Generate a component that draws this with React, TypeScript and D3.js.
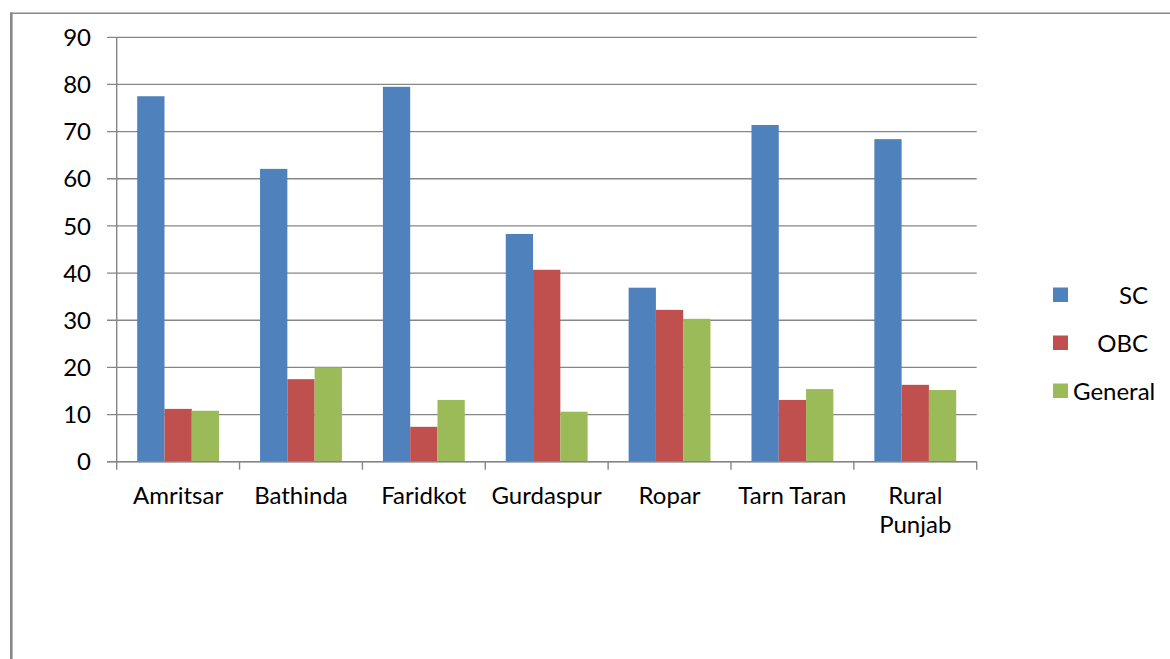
import React from "react";
import * as d3 from "d3";

// District-wise shares (%) by social group
const districts = ["Amritsar", "Bathinda", "Faridkot", "Gurdaspur", "Ropar", "Tarn Taran", "Rural Punjab"];
const seriesNames = ["SC", "OBC", "General"];
const scValues = [77.5, 62.1, 79.5, 48.3, 36.9, 71.4, 68.4];
const obcValues = [11.2, 17.5, 7.4, 40.7, 32.2, 13.1, 16.3];
const generalValues = [10.8, 20.0, 13.1, 10.6, 30.3, 15.4, 15.2];
const yTicks = [0, 10, 20, 30, 40, 50, 60, 70, 80, 90];

const seriesValues = [scValues, obcValues, generalValues];
const colors = ["#4F81BD", "#C0504D", "#9BBB59"];

const W = 1170;
const H = 659;
const left = 116.7;
const right = 976.7;
const top = 37.3;
const bottom = 461.7;
const FONT = "Lato, 'Open Sans', sans-serif";
const FS = 24;
const GRID = "#868686";

export default function App() {
  const x0 = d3.scaleBand<string>().domain(districts).range([left, right]).paddingInner(0).paddingOuter(0);
  const bw = x0.bandwidth();
  const x1 = d3.scaleBand<string>().domain(seriesNames).range([20.5, bw - 20.5]).padding(0);
  const y = d3.scaleLinear().domain([0, 90]).range([bottom, top]);

  const boundaries = districts.map((d) => x0(d) as number).concat([right]);

  return (
    <svg
      width={W}
      height={H}
      style={{ position: "absolute", left: 0, top: 0, background: "#fff" }}
      fontFamily={FONT}
    >
      <rect x={0} y={0} width={W} height={H} fill="#fff" />
      {/* outer frame */}
      <line x1={10} x2={W} y1={13.3} y2={13.3} stroke="#888" strokeWidth={1.4} />
      <line x1={11.3} x2={11.3} y1={12.6} y2={H} stroke="#888" strokeWidth={2.6} />

      {/* gridlines with outward ticks */}
      {yTicks.map((t) => (
        <g key={t}>
          <line x1={107} x2={right} y1={y(t)} y2={y(t)} stroke={GRID} strokeWidth={1.3} />
          <text x={91} y={y(t)} dy="0.36em" textAnchor="end" fontSize={FS} fill="#000">
            {t}
          </text>
        </g>
      ))}

      {/* bars */}
      {districts.map((d, i) => (
        <g key={d} transform={`translate(${x0(d)},0)`}>
          {seriesNames.map((s, j) => (
            <rect
              key={s}
              x={x1(s)}
              y={y(seriesValues[j][i])}
              width={x1.bandwidth()}
              height={y(0) - y(seriesValues[j][i])}
              fill={colors[j]}
            />
          ))}
        </g>
      ))}

      {/* axes */}
      <line x1={left} x2={left} y1={top} y2={bottom} stroke={GRID} strokeWidth={1.4} />
      <line x1={107} x2={right} y1={bottom} y2={bottom} stroke={GRID} strokeWidth={1.4} />
      {boundaries.map((bx, i) => (
        <line key={i} x1={bx} x2={bx} y1={bottom} y2={bottom + 8} stroke={GRID} strokeWidth={1.4} />
      ))}

      {/* category labels */}
      {districts.map((d) => {
        const cx = (x0(d) as number) + bw / 2;
        const lines = d === "Rural Punjab" ? ["Rural", "Punjab"] : [d];
        return (
          <text key={d} x={cx} y={503.5} textAnchor="middle" fontSize={FS} fill="#000">
            {lines.map((ln, k) => (
              <tspan key={k} x={cx} dy={k === 0 ? 0 : 29.5}>
                {ln}
              </tspan>
            ))}
          </text>
        );
      })}

      {/* legend */}
      {seriesNames.map((s, j) => {
        const sy = 287.5 + j * 48;
        return (
          <g key={s}>
            <rect x={1053} y={sy} width={15} height={14.5} fill={colors[j]} />
            <text
              x={s === "General" ? 1073 : 1148}
              y={sy + 7.5}
              dy="0.36em"
              textAnchor={s === "General" ? "start" : "end"}
              fontSize={FS}
              fill="#000"
            >
              {s}
            </text>
          </g>
        );
      })}
    </svg>
  );
}
